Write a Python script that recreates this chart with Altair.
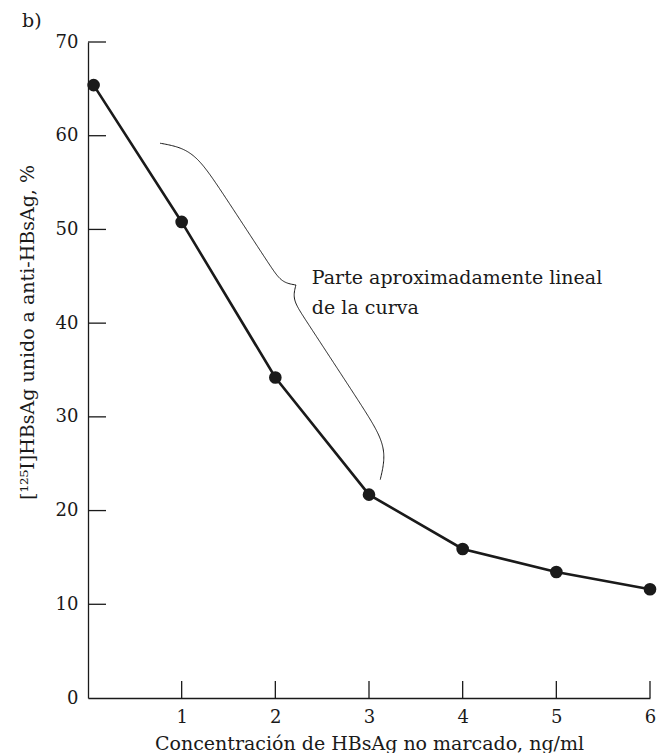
import altair as alt
import pandas as pd
import numpy as np

# ---- data ----
conc = [0.06, 1, 2, 3, 4, 5, 6]
bound = [65.4, 50.8, 34.2, 21.7, 15.9, 13.45, 11.6]
x_ticks = [1, 2, 3, 4, 5, 6]
y_ticks = [10, 20, 30, 40, 50, 60, 70]
y_labels = [0, 10, 20, 30, 40, 50, 60, 70]
note_lines = ["Parte aproximadamente lineal", "de la curva"]
x_title = "Concentración de HBsAg no marcado, ng/ml"
y_title = "[¹²⁵I]HBsAg unido a anti-HBsAg, %"
panel = "b)"

# annotation anchors (data units)
brace_start = (0.77, 59.2)
brace_end = (3.12, 23.3)
note_pos = (2.39, 44.8)
note_step = 3.2

W, H = 562, 656
XMAX, YMAX = 6, 70
FONT = "DejaVu Serif"
INK = "#1a1a1a"

# ---- curly brace path (built in pixel space, converted back to data) ----
def to_px(x, y):
    return np.array([x / XMAX * W, H - y / YMAX * H])

p0 = to_px(*brace_start)
p1 = to_px(*brace_end)
d = p1 - p0
L = np.linalg.norm(d)
u = d / L
n = np.array([u[1], -u[0]])
t = np.linspace(0, 1, 401)
m = 0.48
a, b = 25.0, 11.0
beta1, beta2 = 34.0, 80.0
sig = lambda z: 1 / (1 + np.exp(-z))
edge = np.minimum(2 * sig(beta1 * t) - 1, 2 * sig(beta1 * (1 - t)) - 1)
tip = 2 * sig(-beta2 * np.abs(t - m))
off = a * edge + b * tip
pts = p0[None, :] + (t * L)[:, None] * u[None, :] + off[:, None] * n[None, :]
brace_df = pd.DataFrame({
    "x": pts[:, 0] / W * XMAX,
    "y": (H - pts[:, 1]) / H * YMAX,
    "o": np.arange(len(t)),
})

df = pd.DataFrame({"x": conc, "y": bound})
xt = pd.DataFrame({"x": x_ticks})
yt = pd.DataFrame({"y": y_ticks})
note_df = pd.DataFrame({
    "x": [note_pos[0]] * len(note_lines),
    "y": [note_pos[1] - i * note_step for i in range(len(note_lines))],
    "t": note_lines,
})

xs = alt.Scale(domain=[0, XMAX], nice=False, zero=False)
ys = alt.Scale(domain=[0, YMAX], nice=False, zero=False)

x_axis = alt.Axis(
    values=x_ticks, grid=False, ticks=False, tickSize=0, labelFlush=False,
    labelFont=FONT, labelFontSize=18, labelColor=INK, labelPadding=10,
    domainColor=INK, domainWidth=1.3,
    title=x_title, titleFont=FONT, titleFontSize=19, titleFontWeight="normal",
    titleColor=INK, titleY=45, titleBaseline="middle",
)
y_axis = alt.Axis(
    values=y_labels, grid=False, ticks=False, tickSize=0,
    labelFont=FONT, labelFontSize=18, labelColor=INK, labelPadding=10,
    domainColor=INK, domainWidth=1.3,
    title=y_title, titleFont=FONT, titleFontSize=19, titleFontWeight="normal",
    titleColor=INK, titleX=-61, titleY=290, titleAngle=270,
    titleAlign="center", titleBaseline="middle",
)

X = alt.X("x:Q", scale=xs, axis=x_axis, title=x_title)
Y = alt.Y("y:Q", scale=ys, axis=y_axis, title=y_title)

line = alt.Chart(df).mark_line(color=INK, strokeWidth=2.6).encode(x=X, y=Y)
pts_layer = alt.Chart(df).mark_circle(color=INK, size=160, opacity=1).encode(x=X, y=Y)
ytick_layer = alt.Chart(yt).mark_rule(color=INK, strokeWidth=1.3).encode(
    y=Y, x=alt.value(0), x2=alt.value(18))
xtick_layer = alt.Chart(xt).mark_rule(color=INK, strokeWidth=1.3).encode(
    x=X, y=alt.value(H), y2=alt.value(H - 17))
brace = alt.Chart(brace_df).mark_line(color=INK, strokeWidth=1).encode(
    x=X, y=Y, order="o:Q")
note = alt.Chart(note_df).mark_text(
    align="left", baseline="middle", font=FONT, fontSize=19, color=INK
).encode(x=X, y=Y, text="t:N")

chart = alt.layer(line, pts_layer, ytick_layer, xtick_layer, brace, note).properties(
    width=W, height=H,
    padding={"left": 80, "top": 34, "right": 7, "bottom": 55},
    autosize=alt.AutoSizeParams(type="none"),
    title=alt.TitleParams(
        text=panel, anchor="start", frame="group", dx=-66, offset=2,
        font=FONT, fontSize=19, fontWeight="normal", color=INK,
    ),
).configure_view(stroke=None)

chart.save("out.html", embed_options={"renderer": "svg", "actions": False})
